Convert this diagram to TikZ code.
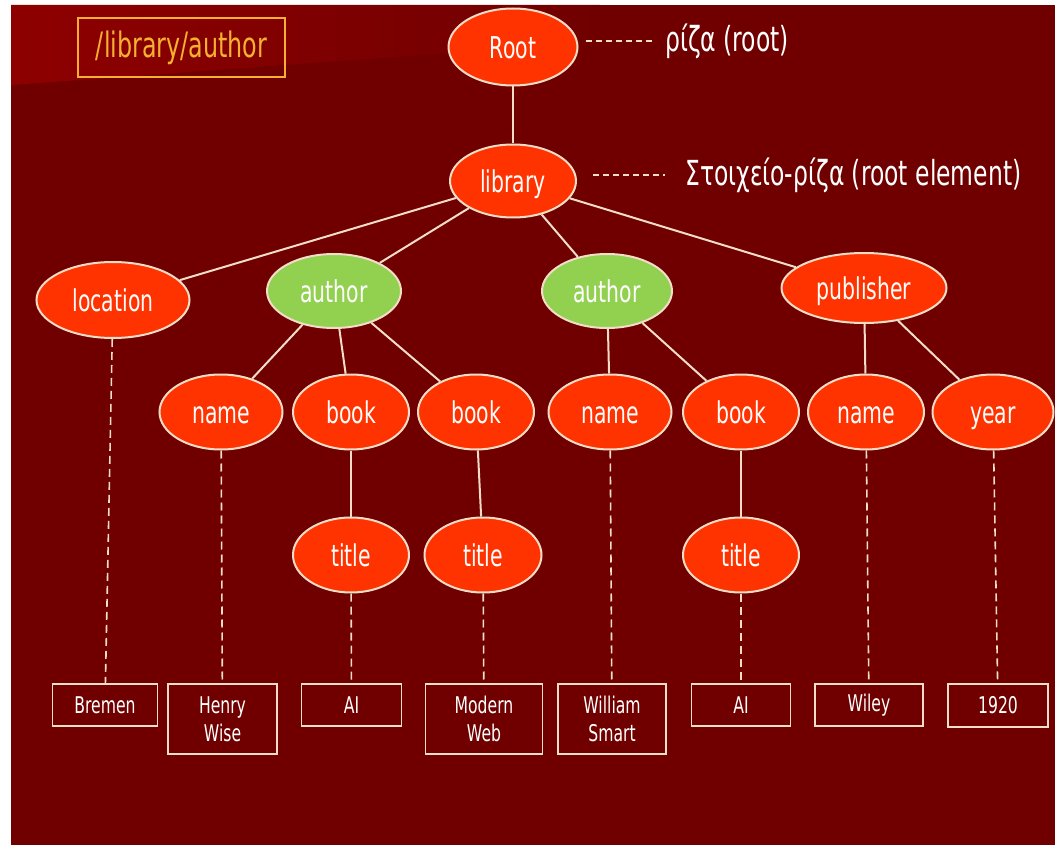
\documentclass[tikz,border=0pt]{standalone}
\usepackage{fontspec}
\setmainfont{DejaVu Sans}[FakeStretch=0.68]
\usetikzlibrary{shapes.geometric}
\definecolor{bgmain}{HTML}{700000}
\definecolor{bgtop}{HTML}{8E0000}
\definecolor{nodered}{HTML}{FF3300}
\definecolor{nodegreen}{HTML}{92D050}
\definecolor{linecol}{HTML}{F2DDC9}
\definecolor{pathcol}{HTML}{F5B031}

\begin{document}
\begin{tikzpicture}[x=1pt,y=-1pt,
    elem/.style={ellipse,draw=linecol,line width=2pt,fill=nodered,text=white,inner sep=0,
      minimum width=120pt,minimum height=75pt,text height=23pt,text depth=0pt,
      font=\fontsize{30}{32}\selectfont},
    sel/.style={elem,fill=nodegreen},
    leaf/.style={rectangle,draw=linecol,line width=1.6pt,text=white,align=center,inner sep=0,
      anchor=north,font=\fontsize{23}{28}\selectfont},
    link/.style={draw=linecol,line width=2pt},
    hint/.style={link,line width=1.6pt,dash pattern=on 8pt off 5pt},
    note/.style={text=white,anchor=west,inner sep=0,font=\fontsize{34.5}{38}\selectfont}]
  \useasboundingbox (0,0) rectangle (1055,845);
  \fill[white] (0,0) rectangle (1055,845);
  \fill[bgmain] (11,5) rectangle (1055,845);
  \shade[left color=bgtop,right color=bgmain] (11,5) -- (600,5) -- (600,42) -- (11,85) -- cycle;

  \node[draw=pathcol,line width=1.4pt,text=pathcol,minimum width=207pt,minimum height=59pt,
    font=\fontsize{35}{40}\selectfont](xpath) at (181.5,47.5) {/library/author};

  \node[elem,minimum width=129pt,minimum height=77pt](root) at (513,47) {Root};
  \node[elem,minimum width=126pt,minimum height=73pt](library) at (513,181) {library};

  \node[note](rootnote) at (665,41) {ρίζα (root)};
  \node[note](libnote) at (685,175) {Στοιχείο-ρίζα (root element)};
  \draw[link,line width=1.4pt,dash pattern=on 6pt off 4pt] ([xshift=7pt]root.east |- rootnote.west) -- ([xshift=-10pt]rootnote.west);
  \draw[link,line width=1.4pt,dash pattern=on 6pt off 4pt] ([xshift=16pt]library.east |- libnote.west) -- ([xshift=-20pt]libnote.west);

  \node[elem,minimum width=153pt,minimum height=76pt](location) at (113,300) {location};
  \node[sel,minimum width=134pt,minimum height=74pt](author1) at (334,291) {author};
  \node[sel,minimum width=130pt,minimum height=74pt](author2) at (607,291) {author};
  \node[elem,minimum width=165pt,minimum height=70pt](publisher) at (864,288) {publisher};

  \node[elem,minimum width=123pt](name1) at (221,412) {name};
  \node[elem,minimum width=116pt](book1) at (351,412) {book};
  \node[elem,minimum width=116pt](book2) at (476,412) {book};
  \node[elem,minimum width=123pt](name2) at (610,412) {name};
  \node[elem,minimum width=116pt](book3) at (741,412) {book};
  \node[elem,minimum width=116pt](name3) at (866,412) {name};
  \node[elem,minimum width=121pt](year) at (993,412) {year};

  \node[elem,minimum width=116pt](title1) at (351,555) {title};
  \node[elem,minimum width=117pt](title2) at (483,555) {title};
  \node[elem,minimum width=116pt](title3) at (741,555) {title};

  \draw[link] (root) -- (library);
  \foreach \c in {location,author1,author2,publisher} {
    \draw[link] (library) -- (\c);
  }
  \foreach \p/\c in {author1/name1,author1/book1,author1/book2,author2/name2,author2/book3,
      publisher/name3,publisher/year,book1/title1,book2/title2,book3/title3} {
    \draw[link] (\p) -- (\c);
  }

  \foreach \p/\l/\x/\w/\h/\t in {location/bremen/105/105/42/Bremen,
      name1/henry/222.5/109/70/{Henry\\Wise},
      title1/ai1/351.5/100/42/AI,
      title2/modern/484/117/70/{Modern\\Web},
      name2/william/612/108/70/{William\\Smart},
      title3/ai2/741/99/42/AI,
      name3/wiley/869/108/42/Wiley,
      year/yearval/998/100/43/1920} {
    \node[leaf,minimum width=\w,minimum height=\h](\l) at (\x,683) {\t};
    \draw[hint] (\p) -- (\l);
  }
\end{tikzpicture}
\end{document}
